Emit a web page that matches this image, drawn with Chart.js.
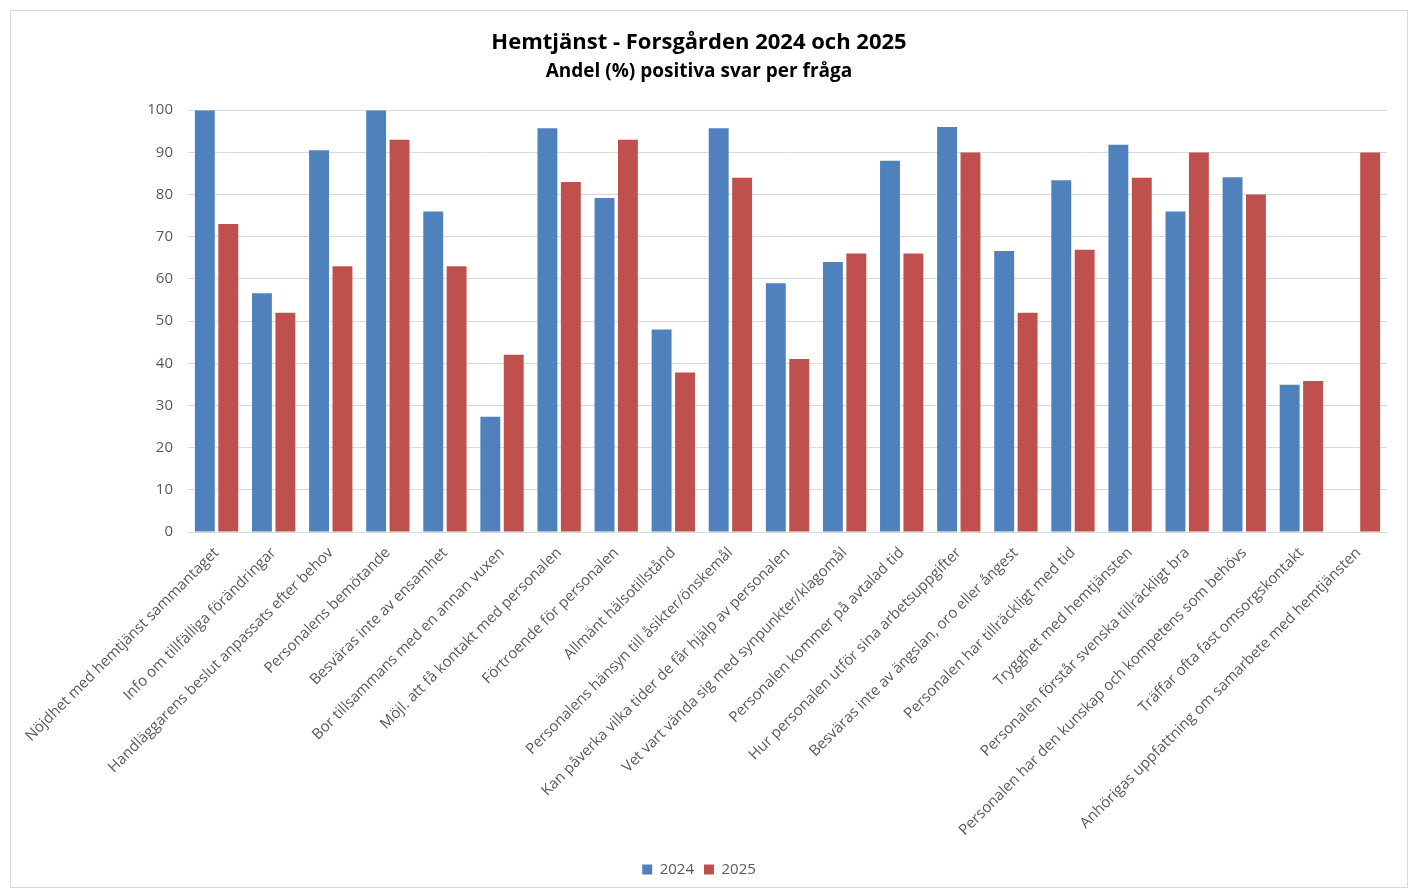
<!DOCTYPE html>
<html lang="sv">
<head>
<meta charset="utf-8">
<title>Hemtjänst - Forsgården 2024 och 2025</title>
<script src="https://cdn.jsdelivr.net/npm/chart.js@4.4.1/dist/chart.umd.min.js"></script>
<style>
    body { margin: 0; background: #fff; }
    #wrap {
        position: absolute; left: 10px; top: 10px;
        width: 1398px; height: 878px;
        border: 1px solid #d9d9d9; box-sizing: border-box;
    }
</style>
</head>
<body>
<div id="wrap"><canvas id="chart"></canvas></div>
<script>
const categories = [
    'Nöjdhet med hemtjänst sammantaget',
    'Info om tillfälliga förändringar',
    'Handläggarens beslut anpassats efter behov',
    'Personalens bemötande',
    'Besväras inte av ensamhet',
    'Bor tillsammans med en annan vuxen',
    'Möjl. att få kontakt med personalen',
    'Förtroende för personalen',
    'Allmänt hälsotillstånd',
    'Personalens hänsyn till åsikter/önskemål',
    'Kan påverka vilka tider de får hjälp av personalen',
    'Vet vart vända sig med synpunkter/klagomål',
    'Personalen kommer på avtalad tid',
    'Hur personalen utför sina arbetsuppgifter',
    'Besväras inte av ängslan, oro eller ångest',
    'Personalen har tillräckligt med tid',
    'Trygghet med hemtjänsten',
    'Personalen förstår svenska tillräckligt bra',
    'Personalen har den kunskap och kompetens som behövs',
    'Träffar ofta fast omsorgskontakt',
    'Anhörigas uppfattning om samarbete med hemtjänsten'
];

const values2024 = [100, 56.6, 90.5, 100, 76, 27.3, 95.7, 79.2, 48, 95.7, 59, 64, 88, 96, 66.6, 83.4, 91.8, 76, 84.1, 34.9, null];
const values2025 = [73, 52, 63, 93, 63, 42, 83, 93, 37.8, 84, 41, 66, 66, 90, 52, 66.9, 84, 90, 80, 35.8, 90];

const yTicks = [0, 10, 20, 30, 40, 50, 60, 70, 80, 90, 100];

const FONT = '"Open Sans", "Noto Sans", sans-serif';
const textColor = '#595959';
const gridColor = '#d9d9d9';

new Chart(document.getElementById('chart'), {
    type: 'bar',
    data: {
        labels: categories,
        datasets: [
            { label: '2024', data: values2024, backgroundColor: '#4F81BD' },
            { label: '2025', data: values2025, backgroundColor: '#C0504D' }
        ]
    },
    options: {
        responsive: true,
        maintainAspectRatio: false,
        animation: false,
        datasets: {
            bar: { categoryPercentage: 0.82, barPercentage: 0.85 }
        },
        layout: { padding: { left: 0, right: 20, top: 0, bottom: 0 } },
        plugins: {
            title: {
                display: true,
                text: 'Hemtjänst - Forsgården 2024 och 2025',
                color: '#000',
                font: { family: FONT, size: 22, weight: 'bold' },
                padding: { top: 19, bottom: 4 }
            },
            subtitle: {
                display: true,
                text: 'Andel (%) positiva svar per fråga',
                color: '#000',
                font: { family: FONT, size: 19, weight: 'bold' },
                padding: { top: 0, bottom: 27 }
            },
            legend: {
                position: 'bottom',
                labels: {
                    color: textColor,
                    font: { family: FONT, size: 15 },
                    boxWidth: 10,
                    boxHeight: 10,
                    padding: 10
                }
            },
            tooltip: { enabled: false }
        },
        scales: {
            x: {
                afterFit: (scale) => {
                    scale.height = 320;
                },
                grid: { display: false, drawTicks: false },
                border: { color: gridColor },
                ticks: {
                    color: textColor,
                    font: { family: FONT, size: 15 },
                    minRotation: 45,
                    maxRotation: 45,
                    autoSkip: false,
                    padding: 12
                }
            },
            y: {
                min: 0,
                max: 100,
                afterBuildTicks: (scale) => {
                    scale.ticks = yTicks.map(v => ({ value: v }));
                },
                afterFit: (scale) => {
                    scale.width = 177;
                },
                grid: { color: gridColor, drawTicks: false },
                border: { display: false },
                ticks: {
                    color: textColor,
                    font: { family: FONT, size: 15 },
                    padding: 15
                }
            }
        }
    }
});
</script>
</body>
</html>
